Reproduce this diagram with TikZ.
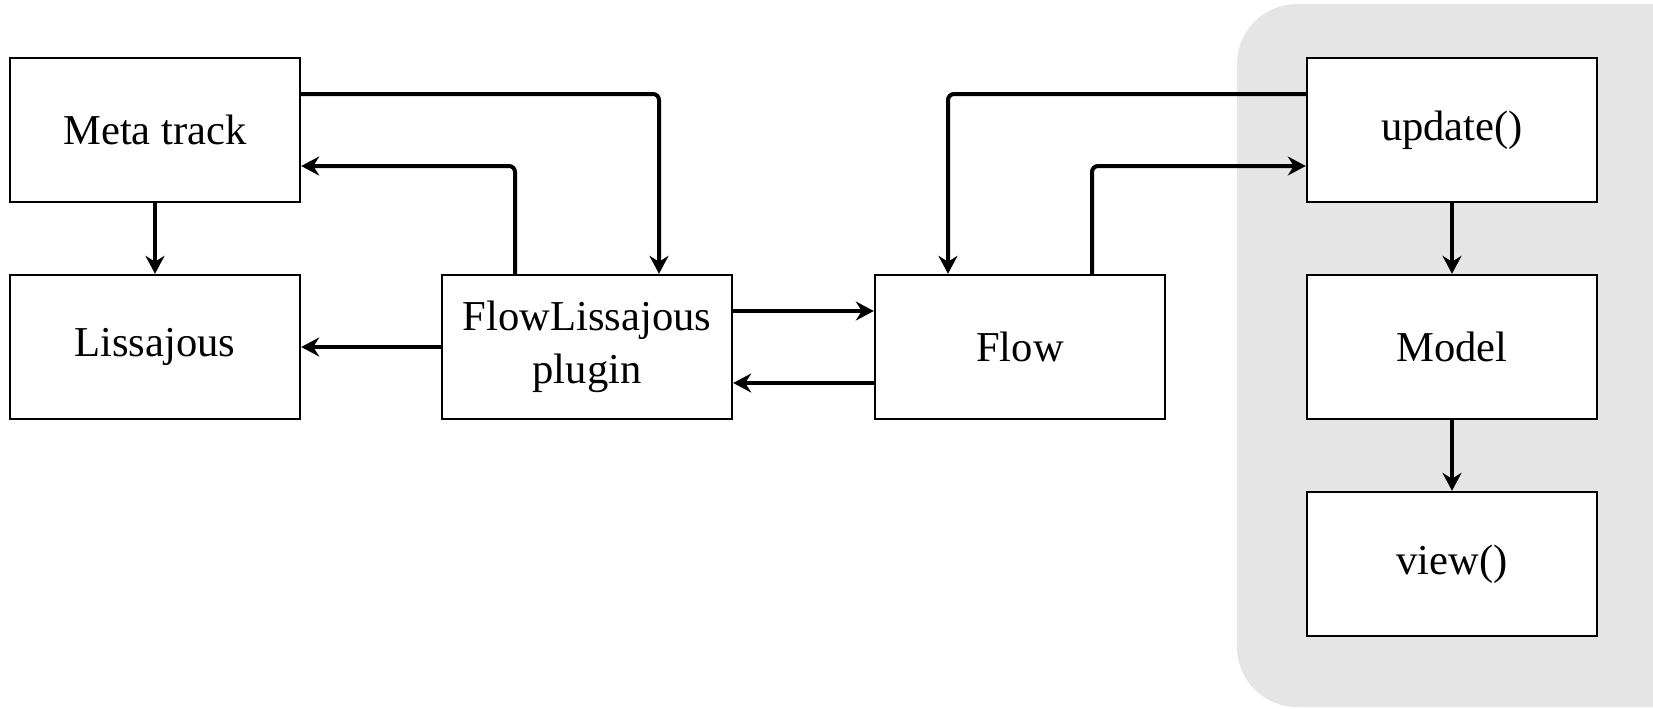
\documentclass[tikz,border=0pt]{standalone}
\usepackage{fontspec}
\setmainfont{Liberation Serif}
\usetikzlibrary{arrows.meta}
\usetikzlibrary{calc}
\definecolor{panelgray}{RGB}{229,229,229}

\begin{document}
\begin{tikzpicture}[x=0.5pt, y=-0.5pt,
    block/.style={rectangle, draw, line width=1.2pt, fill=white, minimum width=145pt, minimum height=72pt, align=center, font=\fontsize{21.3}{26.4}\selectfont},
    arr/.style={line width=2pt, rounded corners=3pt, -{Stealth[length=9pt, width=9.5pt, inset=3pt]}}]
      \useasboundingbox (0,0) rectangle (1653,708);
      \fill[panelgray, rounded corners=30pt] (1237,4) rectangle (1760,707);

      \node[block] (meta) at (155,130) {Meta track};
      \node[block] (liss) at (155,347) {Lissajous};
      \node[block] (plugin) at (587,347) {FlowLissajous\\plugin};
      \node[block] (flow) at (1020,347) {Flow};
      \node[block] (update) at (1452,130) {update()};
      \node[block] (model) at (1452,347) {Model};
      \node[block] (view) at (1452,564) {view()};

      \draw[arr] ([yshift=18pt]meta.east) -| ([xshift=36pt]plugin.north);
      \draw[arr] ([xshift=-36pt]plugin.north) |- ([yshift=-18pt]meta.east);
      \draw[arr] (meta) -- (liss);
      \draw[arr] (plugin) -- (liss);
      \draw[arr] ([yshift=18pt]plugin.east) -- ([yshift=18pt]flow.west);
      \draw[arr] ([yshift=-18pt]flow.west) -- ([yshift=-18pt]plugin.east);
      \draw[arr] ([yshift=18pt]update.west) -| ([xshift=-36pt]flow.north);
      \draw[arr] ([xshift=36pt]flow.north) |- ([yshift=-18pt]update.west);
      \draw[arr] (update) -- (model);
      \draw[arr] (model) -- (view);
    \end{tikzpicture}
\end{document}
